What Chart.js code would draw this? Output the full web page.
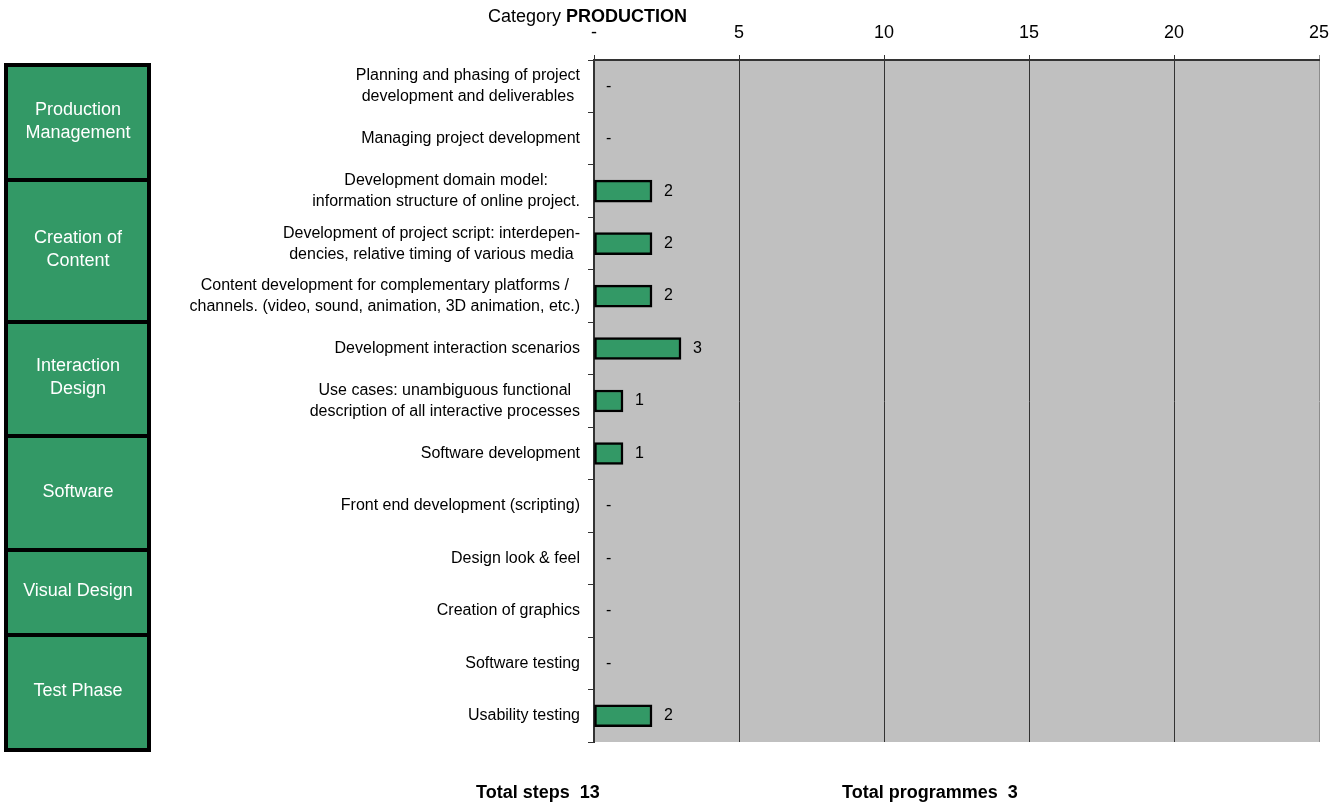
<!DOCTYPE html>
<html>
<head>
<meta charset="utf-8">
<script src="https://cdn.jsdelivr.net/npm/chart.js@4.4.1/dist/chart.umd.min.js"></script>
<style>
  html, body { margin: 0; padding: 0; background: #fff; }
  canvas { display: block; }
</style>
</head>
<body>
<canvas id="chart" width="1343" height="805"></canvas>
<script>
// production steps (multi-line names as arrays)
const steps = [
  ["Planning and phasing of project", "development and deliverables"],
  "Managing project development",
  ["Development domain model:", "information structure of online project."],
  ["Development of project script: interdepen-", "dencies, relative timing of various media"],
  ["Content development for complementary platforms /", "channels. (video, sound, animation, 3D animation, etc.)"],
  "Development interaction scenarios",
  ["Use cases: unambiguous functional", "description of all interactive processes"],
  "Software development",
  "Front end development (scripting)",
  "Design look & feel",
  "Creation of graphics",
  "Software testing",
  "Usability testing"
];
const stepCounts = [0, 0, 2, 2, 2, 3, 1, 1, 0, 0, 0, 0, 2];
const phases = [
  ["Production", "Management"],
  ["Creation of", "Content"],
  ["Interaction", "Design"],
  ["Software"],
  ["Visual Design"],
  ["Test Phase"]
];
const xTicks = [0, 5, 10, 15, 20, 25];
const categoryName = "PRODUCTION";
const totalProgrammes = 3;

const FONT = "'Liberation Sans', Arial, sans-serif";
const phaseEdges = [65, 180, 322, 436, 550, 635, 750];

const decor = {
  id: 'decor',
  beforeDraw(chart) {
    const { ctx, chartArea: a } = chart;
    ctx.save();
    ctx.fillStyle = '#c0c0c0';
    ctx.fillRect(a.left, a.top, a.right - a.left, a.bottom - a.top);
    ctx.restore();
  },
  afterDraw(chart) {
    const ctx = chart.ctx;
    const yScale = chart.scales.y;
    const meta = chart.getDatasetMeta(0);
    ctx.save();
    ctx.fillStyle = '#000';
    ctx.textBaseline = 'middle';

    // step names: block right aligned to the axis, lines centred in the block
    ctx.font = '16px ' + FONT;
    ctx.textAlign = 'center';
    steps.forEach((s, i) => {
      const lines = Array.isArray(s) ? s : [s];
      const w = Math.max(...lines.map(l => ctx.measureText(l).width));
      const cx = yScale.right - 14 - w / 2;
      const cy = yScale.getPixelForValue(i);
      lines.forEach((l, j) => ctx.fillText(l, cx, cy + (j - (lines.length - 1) / 2) * 21));
    });

    // value labels next to the bars
    ctx.textAlign = 'left';
    meta.data.forEach((bar, i) => {
      const v = stepCounts[i];
      ctx.fillText(v === 0 ? '-' : String(v), bar.x + 12, bar.y);
    });

    // heading
    ctx.font = '18px ' + FONT;
    const lead = 'Category ';
    ctx.fillText(lead, 488, 17);
    const lw = ctx.measureText(lead).width;
    ctx.font = 'bold 18px ' + FONT;
    ctx.fillText(categoryName, 488 + lw, 17);

    // totals
    const totalSteps = stepCounts.reduce((a, b) => a + b, 0);
    ctx.fillText('Total steps  ' + totalSteps, 476, 793);
    ctx.fillText('Total programmes  ' + totalProgrammes, 842, 793);

    // phase boxes on the left
    phases.forEach((p, i) => {
      const top = phaseEdges[i], bot = phaseEdges[i + 1];
      ctx.fillStyle = '#339966';
      ctx.fillRect(6, top, 143, bot - top);
      ctx.strokeStyle = '#000';
      ctx.lineWidth = 4;
      ctx.strokeRect(6, top, 143, bot - top);
      ctx.fillStyle = '#fff';
      ctx.font = '18px ' + FONT;
      ctx.textAlign = 'center';
      const mid = (top + bot) / 2 - 1;
      p.forEach((l, j) => ctx.fillText(l, 78, mid + (j - (p.length - 1) / 2) * 23));
    });
    ctx.restore();
  }
};

new Chart(document.getElementById('chart'), {
  type: 'bar',
  data: {
    labels: steps,
    datasets: [{
      data: stepCounts,
      backgroundColor: '#339966',
      borderColor: '#000',
      borderWidth: 2.5,
      borderSkipped: false,
      barThickness: 22
    }]
  },
  options: {
    indexAxis: 'y',
    responsive: false,
    animation: false,
    layout: { padding: { left: 0, right: 24, top: 0, bottom: 63 } },
    plugins: { legend: { display: false }, tooltip: { enabled: false } },
    scales: {
      x: {
        position: 'top',
        min: 0,
        max: 25,
        afterBuildTicks: s => { s.ticks = xTicks.map(v => ({ value: v })); },
        ticks: {
          callback: v => v === 0 ? '-' : v,
          font: { family: FONT, size: 18 },
          color: '#000',
          padding: 11,
          maxRotation: 0
        },
        grid: {
          color: c => (c.tick && c.tick.value === 25) ? '#8c8c8c' : '#333',
          lineWidth: 1,
          tickLength: 5
        },
        border: { color: '#333', width: 2 },
        afterFit: s => { s.height = 60; }
      },
      y: {
        ticks: { display: false },
        grid: { drawOnChartArea: false, tickLength: 6, color: '#333' },
        border: { color: '#333', width: 2 },
        afterFit: s => { s.width = 594; }
      }
    }
  },
  plugins: [decor]
});
</script>
</body>
</html>
